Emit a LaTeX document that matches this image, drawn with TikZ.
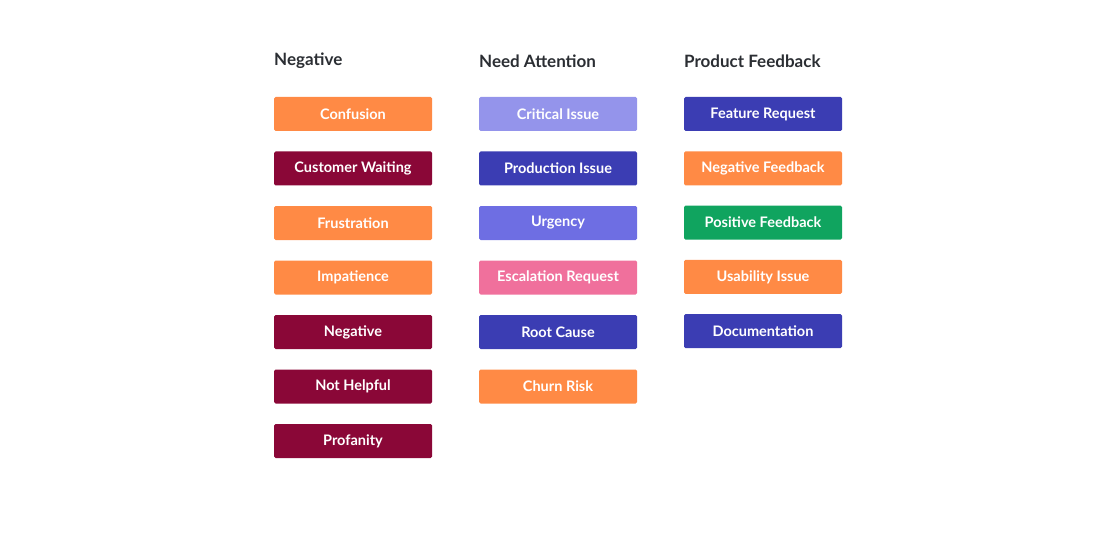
\documentclass[tikz,border=0pt]{standalone}
\usepackage{fontspec}
\setmainfont{Lato}
\definecolor{org}{HTML}{FF8A45}
\definecolor{mar}{HTML}{8A0737}
\definecolor{lav}{HTML}{9494EB}
\definecolor{ind}{HTML}{3B3DB3}
\definecolor{per}{HTML}{6E6EE3}
\definecolor{pnk}{HTML}{F0709C}
\definecolor{grn}{HTML}{10A45F}
\definecolor{hd}{HTML}{2B2E33}
\begin{document}
\begin{tikzpicture}[x=1pt,y=-1pt,
  tag/.style={fill=#1,text=white,minimum width=158pt,minimum height=34pt,rounded corners=1.5pt,inner sep=0pt,font=\fontsize{14.5}{16}\selectfont\bfseries},
  head/.style={anchor=west,inner sep=0pt,text=hd,font=\fontsize{17}{20}\selectfont\bfseries}]
\useasboundingbox (0,0) rectangle (1110,540);
\node[head] (h1) at (274,61) {Negative};
\node[head] (h2) at (479,61) {Need Attention};
\node[head] (h3) at (684,61) {Product Feedback};
\foreach \n/\t/\c [count=\i from 0] in {a1/Confusion/org,a2/Customer Waiting/mar,a3/Frustration/org,a4/Impatience/org,a5/Negative/mar,a6/Not Helpful/mar,a7/Profanity/mar}
  \node[tag=\c] (\n) at (353,114+54.5*\i) {\t};
\foreach \n/\t/\c [count=\i from 0] in {b1/Critical Issue/lav,b2/Production Issue/ind,b3/Urgency/per,b4/Escalation Request/pnk,b5/Root Cause/ind,b6/Churn Risk/org}
  \node[tag=\c] (\n) at (558,114+54.5*\i) {\t};
\foreach \n/\t/\c [count=\i from 0] in {c1/Feature Request/ind,c2/Negative Feedback/org,c3/Positive Feedback/grn,c4/Usability Issue/org,c5/Documentation/ind}
  \node[tag=\c] (\n) at (763,114+54.3*\i) {\t};
\end{tikzpicture}
\end{document}
